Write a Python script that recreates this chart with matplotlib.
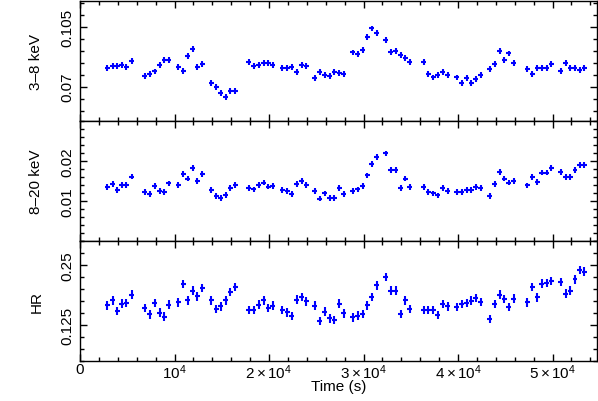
import numpy as np
import matplotlib
matplotlib.use("Agg")
import matplotlib.pyplot as plt
from matplotlib.ticker import FixedLocator, MultipleLocator, FuncFormatter

plt.rcParams['font.family'] = ['Liberation Sans', 'DejaVu Sans']
plt.rcParams['mathtext.fontset'] = 'custom'
plt.rcParams['mathtext.rm'] = 'Liberation Sans'
plt.rcParams['mathtext.it'] = 'Liberation Sans'

# bin centres (s)
time = [2875, 3474, 3933, 4392, 4885, 5450,
        6861, 7390, 7884, 8413, 8907, 9400,
        10388, 10917, 11411, 11905, 12399, 12928,
        13880, 14409, 14903, 15397, 15891, 16420,
        17866, 18395, 18889, 19418, 19912, 20406,
        21393, 21922, 22416, 22910, 23439, 23933,
        24850, 25379, 25873, 26402, 26896, 27425, 27919,
        28836, 29365, 29894, 30388, 30882, 31376,
        32363, 32857, 33386, 33915, 34409, 34903,
        36349, 36843, 37372, 37866, 38395, 38889,
        39877, 40370, 40899, 41393, 41887, 42381,
        43369, 43862, 44392, 44885, 45379, 45873,
        47319, 47848, 48377, 48871, 49365, 49859,
        50847, 51376, 51870, 52363, 52857, 53351]

# 3-8 keV rate
soft = [0.0807, 0.0821, 0.0821, 0.0828, 0.0817, 0.0852,
        0.0764, 0.0774, 0.0789, 0.0826, 0.0854, 0.0858,
        0.0813, 0.0793, 0.0877, 0.0920, 0.0817, 0.0832,
        0.0721, 0.0696, 0.0661, 0.0642, 0.0677, 0.0673,
        0.0842, 0.0822, 0.0828, 0.0838, 0.0838, 0.0828,
        0.0807, 0.0809, 0.0817, 0.0788, 0.0826, 0.0822,
        0.0751, 0.0784, 0.0770, 0.0764, 0.0784, 0.0780, 0.0776,
        0.0900, 0.0891, 0.0916, 0.0988, 0.1040, 0.1013,
        0.0972, 0.0904, 0.0910, 0.0887, 0.0867, 0.0842,
        0.0846, 0.0774, 0.0754, 0.0770, 0.0788, 0.0768,
        0.0754, 0.0721, 0.0749, 0.0721, 0.0745, 0.0768,
        0.0803, 0.0832, 0.0906, 0.0858, 0.0894, 0.0836,
        0.0803, 0.0774, 0.0809, 0.0809, 0.0807, 0.0832,
        0.0793, 0.0838, 0.0807, 0.0807, 0.0799, 0.0807]

# 8-20 keV rate
hard = [0.0135, 0.0143, 0.0128, 0.0140, 0.0140, 0.0161,
        0.0123, 0.0117, 0.0138, 0.0125, 0.0123, 0.0144,
        0.0140, 0.0167, 0.0156, 0.0182, 0.0150, 0.0167,
        0.0128, 0.0113, 0.0108, 0.0115, 0.0132, 0.0140,
        0.0133, 0.0129, 0.0140, 0.0146, 0.0136, 0.0138,
        0.0128, 0.0125, 0.0118, 0.0142, 0.0150, 0.0140,
        0.0125, 0.0106, 0.0119, 0.0108, 0.0107, 0.0133, 0.0118,
        0.0125, 0.0129, 0.0138, 0.0164, 0.0192, 0.0210,
        0.0219, 0.0178, 0.0178, 0.0133, 0.0156, 0.0135,
        0.0135, 0.0123, 0.0119, 0.0114, 0.0132, 0.0125,
        0.0123, 0.0123, 0.0127, 0.0127, 0.0135, 0.0132,
        0.0113, 0.0142, 0.0173, 0.0156, 0.0146, 0.0150,
        0.0139, 0.0160, 0.0148, 0.0171, 0.0171, 0.0182,
        0.0173, 0.0160, 0.0160, 0.0177, 0.0190, 0.0190]

# hardness ratio
hr = [0.1657, 0.1763, 0.1545, 0.1692, 0.1706, 0.1882,
      0.1601, 0.1475, 0.1706, 0.1510, 0.1426, 0.1671,
      0.1720, 0.2106, 0.1763, 0.1966, 0.1847, 0.2022,
      0.1763, 0.1587, 0.1636, 0.1763, 0.1938, 0.2043,
      0.1566, 0.1566, 0.1671, 0.1763, 0.1601, 0.1650,
      0.1566, 0.1517, 0.1440, 0.1777, 0.1833, 0.1741,
      0.1650, 0.1334, 0.1531, 0.1390, 0.1355, 0.1692, 0.1496,
      0.1411, 0.1447, 0.1482, 0.1657, 0.1833, 0.2078,
      0.2247, 0.1966, 0.1966, 0.1482, 0.1763, 0.1587,
      0.1566, 0.1566, 0.1566, 0.1461, 0.1685, 0.1636,
      0.1622, 0.1685, 0.1706, 0.1756, 0.1812, 0.1727,
      0.1376, 0.1685, 0.1882, 0.1791, 0.1622, 0.1798,
      0.1720, 0.2043, 0.1826, 0.2113, 0.2128, 0.2163,
      0.2149, 0.1903, 0.1966, 0.2198, 0.2394, 0.2359]

bin_half = 255
soft_err = 0.0017
hard_err = 0.0007
hr_err = 0.009

ylabels = ['3\u20138 keV', '8\u201320 keV', 'HR']
ylims = [(0.05, 0.12), (0.0, 0.03), (0.05, 0.30)]
yticks = [[0.07, 0.105], [0.01, 0.02], [0.125, 0.25]]
yminor = [0.007, 0.002, 0.025]


def xfmt(v, pos):
    n = int(round(v / 1e4))
    if n == 0:
        return '0'
    if n == 1:
        return r'$10^4$'
    return r'$%d\times10^4$' % n


fig, axes = plt.subplots(3, 1, sharex=True, figsize=(5.98, 4.02), dpi=100)
fig.subplots_adjust(left=80/598, right=597/598, top=1-2/402, bottom=1-362/402, hspace=0)

series = [(soft, soft_err), (hard, hard_err), (hr, hr_err)]
for i, ax in enumerate(axes):
    vals, err = series[i]
    ax.errorbar(time, vals, xerr=bin_half, yerr=err, fmt='none', ecolor='#0000ff',
                elinewidth=1.5, capsize=0)
    ax.set_ylim(*ylims[i])
    ax.set_xlim(0, 54700)
    ax.yaxis.set_major_locator(FixedLocator(yticks[i]))
    ax.yaxis.set_major_formatter(FuncFormatter(lambda v, p: '%g' % v))
    ax.yaxis.set_minor_locator(MultipleLocator(yminor[i]))
    ax.xaxis.set_major_locator(MultipleLocator(10000))
    ax.xaxis.set_minor_locator(MultipleLocator(2000))
    ax.tick_params(which='both', direction='in', top=True, right=True, width=1.0,
                   labelsize=11, color='black')
    ax.tick_params(which='major', length=5)
    ax.tick_params(which='minor', length=3)
    ax.tick_params(axis='y', labelrotation=90, pad=4)
    for lab in ax.get_yticklabels():
        lab.set_va('center')
    for s in ax.spines.values():
        s.set_linewidth(1.0)
    ax.set_ylabel(ylabels[i], fontsize=11)
    ax.yaxis.set_label_coords(-0.071, 0.5)

axes[2].xaxis.set_major_formatter(FuncFormatter(xfmt))
axes[2].tick_params(axis='x', pad=1.0)
axes[2].set_xlabel('Time (s)', fontsize=11)
axes[2].xaxis.set_label_coords(0.5, -0.15)

fig.savefig('out.png', dpi=100)
